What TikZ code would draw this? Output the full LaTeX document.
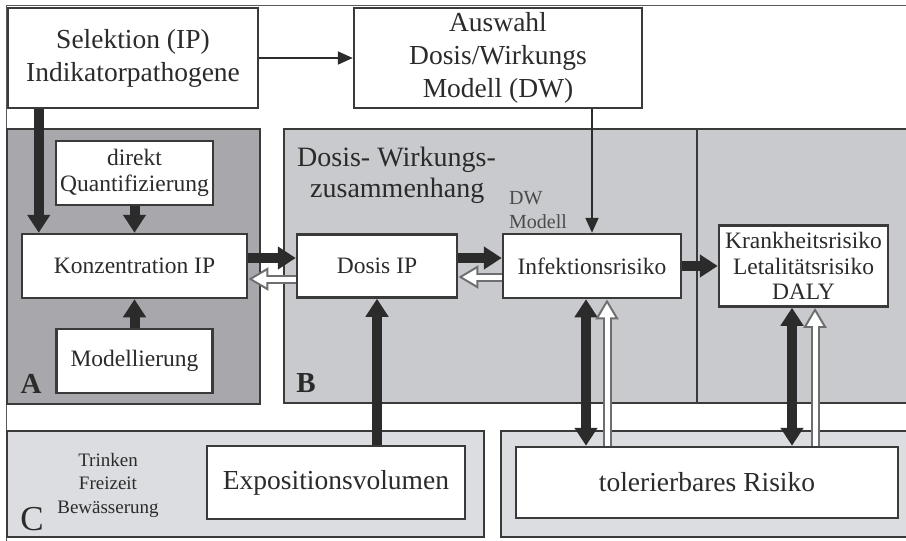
\documentclass[tikz,border=0pt]{standalone}
\usepackage{fontspec}
\setmainfont{Liberation Serif}
\usetikzlibrary{arrows.meta}
\definecolor{ink}{HTML}{2B2B2B}
\definecolor{edge}{HTML}{3A3A3A}
\definecolor{rim}{HTML}{6E6E70}
\definecolor{regA}{HTML}{A8A8AC}
\definecolor{regB}{HTML}{C9CACD}
\definecolor{regC}{HTML}{DCDDE0}
\begin{document}
\begin{tikzpicture}[x=1pt,y=-1pt,
		box/.style={draw=edge,line width=2.5pt,fill=white,text=ink,inner sep=0pt,align=center},
		region/.style={draw=edge,line width=1.8pt},
		bigtxt/.style={font=\fontsize{27.5}{33}\selectfont},
		midtxt/.style={font=\fontsize{23.5}{25.5}\selectfont},
		slim/.style={line width=2pt,draw=ink,-{Triangle[length=15pt,width=13pt]}},
		heavy/.style={line width=10pt,draw=ink,>={Triangle[length=18pt,width=22pt]},->},
		hollow/.style={line width=9pt,draw=rim,-{Triangle[length=20pt,width=22pt]},
			postaction={draw=white,line width=5pt,shorten >=4pt,-{Triangle[length=14pt,width=15pt]}}}]
		\useasboundingbox (0,0) rectangle (906,541);
		\draw[gray!70!black,line width=1pt] (6,5) rectangle (930,560);

		% regions A, B, C
		\filldraw[region,fill=regA] (7,129) rectangle (260,404);
		\filldraw[region,fill=regB] (284,129) rectangle (912,403);
		\draw[region] (697,129) -- (697,403);
		\filldraw[region,fill=regC] (7,431) rectangle (484,537);
		\filldraw[region,fill=regC] (501,431) rectangle (912,537);

		\node[box,bigtxt,minimum width=250pt,minimum height=100pt] (sel) at (133,58)
			{Selektion (IP)\\Indikatorpathogene};
		\node[box,bigtxt,minimum width=288pt,minimum height=100pt] (aus) at (498,58)
			{Auswahl\\Dosis/Wirkungs\\Modell (DW)};
		\node[box,midtxt,minimum width=157pt,minimum height=64pt] (dir) at (134.5,173)
			{direkt\\Quantifizierung};
		\node[box,midtxt,minimum width=225pt,minimum height=64pt] (konz) at (134.5,266)
			{Konzentration IP};
		\node[box,midtxt,minimum width=156pt,minimum height=64pt] (mod) at (134.5,361)
			{Modellierung};
		\node[box,midtxt,minimum width=160pt,minimum height=63pt] (dosis) at (377,266)
			{Dosis IP};
		\node[box,midtxt,minimum width=178pt,minimum height=64pt] (inf) at (592,266)
			{Infektionsrisiko};
		\node[box,midtxt,minimum width=169pt,minimum height=81pt] (krank) at (803.5,266)
			{Krankheitsrisiko\\Letalitätsrisiko\\DALY};
		\node[box,bigtxt,minimum width=258pt,minimum height=73pt] (expo) at (336,482.5)
			{Expositionsvolumen};
		\node[box,bigtxt,minimum width=382pt,minimum height=71pt] (tol) at (707,482.5)
			{tolerierbares Risiko};

		% labels
		\node[anchor=north west,inner sep=0pt,align=left,text=ink,font=\fontsize{28}{31}\selectfont]
			(dwz) at (297,147) {Dosis- Wirkungs-\\\hspace*{13pt}zusammenhang};
		\node[anchor=north west,inner sep=0pt,align=left,text=ink!85,font=\fontsize{20}{24}\selectfont]
			(dwm) at (509,191) {DW\\Modell};
		\node[inner sep=0pt,text=ink,align=center,font=\fontsize{19}{23.5}\selectfont]
			(use) at (108,485) {Trinken\\Freizeit\\Bewässerung};
		\node[inner sep=0pt,text=ink,font=\bfseries\fontsize{29}{29}\selectfont] (labA) at (31,384) {A};
		\node[inner sep=0pt,text=ink,font=\bfseries\fontsize{29}{29}\selectfont] (labB) at (306,383) {B};
		\node[inner sep=0pt,text=ink,font=\fontsize{35}{35}\selectfont] (labC) at (32,519) {C};

		\coordinate (s1) at ([xshift=18pt]konz.north west);
		\coordinate (i1) at ([xshift=-6pt]inf.south);
		\coordinate (i2) at ([xshift=15pt]inf.south);
		\coordinate (k1) at ([xshift=-11.5pt]krank.south);
		\coordinate (k2) at ([xshift=11.5pt]krank.south);

		\draw[slim] (sel) -- (aus);
		\draw[slim] (inf.north |- aus.south) -- (inf.north);
		\draw[heavy] (s1 |- sel.south) -- (s1);
		\draw[heavy] (dir) -- (konz);
		\draw[heavy] (mod) -- (konz);
		\draw[heavy] ([yshift=8pt]konz.east) -- ([yshift=8pt]dosis.west);
		\draw[hollow] ([yshift=-13pt]dosis.west) -- ([yshift=-13pt]konz.east);
		\draw[heavy] ([yshift=8pt]dosis.east) -- ([yshift=8pt]inf.west);
		\draw[hollow] ([yshift=-11pt]inf.west) -- ([yshift=-11pt]dosis.east);
		\draw[heavy] (inf) -- (krank);
		\draw[heavy] (dosis.south |- expo.north) -- (dosis.south);
		\draw[heavy,<->] (i1) -- (i1 |- tol.north);
		\draw[hollow] (i2 |- tol.north) -- (i2);
		\draw[heavy,<->] (k1) -- (k1 |- tol.north);
		\draw[hollow] (k2 |- tol.north) -- (k2);
	\end{tikzpicture}
\end{document}
